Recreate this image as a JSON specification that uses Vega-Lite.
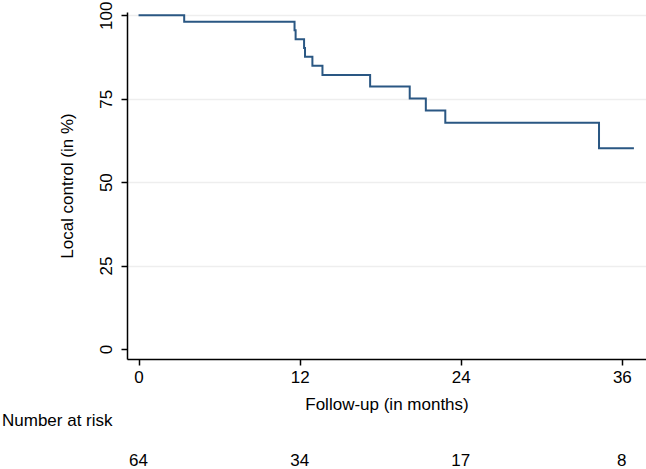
{
  "$schema": "https://vega.github.io/schema/vega-lite/v6.json",
  "padding": {"left": 2, "top": 1, "right": 0, "bottom": 0},
  "config": {
    "font": "Liberation Sans",
    "view": {"stroke": null},
    "axis": {
      "labelFont": "Liberation Sans", "titleFont": "Liberation Sans",
      "labelFontSize": 17, "titleFontSize": 17,
      "labelColor": "#000", "titleColor": "#000", "titleFontWeight": "normal",
      "domainColor": "#000", "tickColor": "#000", "domainWidth": 1.5, "tickWidth": 1.5, "tickSize": 6
    },
    "concat": {"spacing": 0}
  },
  "vconcat": [
    {
      "width": 519,
      "height": 347,
      "data": {"values": [
        {"time": 0, "surv": 100},
        {"time": 3.4, "surv": 98.1},
        {"time": 11.62, "surv": 95.5},
        {"time": 11.7, "surv": 92.8},
        {"time": 12.33, "surv": 90.2},
        {"time": 12.4, "surv": 87.6},
        {"time": 12.95, "surv": 84.9},
        {"time": 13.7, "surv": 82.1},
        {"time": 17.25, "surv": 78.7},
        {"time": 20.2, "surv": 75.1},
        {"time": 21.4, "surv": 71.5},
        {"time": 22.85, "surv": 67.8},
        {"time": 34.3, "surv": 60.2},
        {"time": 36.9, "surv": 60.2}
      ]},
      "mark": {"type": "line", "interpolate": "step-after", "color": "#2a5783", "strokeWidth": 2},
      "encoding": {
        "x": {
          "field": "time", "type": "quantitative",
          "scale": {"domain": [-0.86, 37.8], "nice": false, "zero": false},
          "axis": {"values": [0, 12, 24, 36], "grid": false, "title": "Follow-up (in months)", "labelPadding": 4, "titlePadding": 11}
        },
        "y": {
          "field": "surv", "type": "quantitative",
          "scale": {"domain": [-3, 101], "nice": false},
          "axis": {
            "values": [0, 25, 50, 75, 100], "grid": true, "gridColor": "#eeeeee", "gridWidth": 1.5,
            "gridOpacity": {"condition": {"test": "datum.value === 0", "value": 0}, "value": 1},
            "labelAngle": 270, "labelPadding": 6, "title": "Local control (in %)", "titlePadding": 21
          }
        }
      }
    },
    {
      "width": 519,
      "height": 14,
      "title": {"text": "Number at risk", "anchor": "start", "dx": -125, "fontSize": 17, "fontWeight": "normal", "font": "Liberation Sans", "color": "#000", "offset": 22},
      "data": {"values": [
        {"time": 0, "n": 64},
        {"time": 12, "n": 34},
        {"time": 24, "n": 17},
        {"time": 36, "n": 8}
      ]},
      "mark": {"type": "text", "fontSize": 17, "font": "Liberation Sans", "color": "#000"},
      "encoding": {
        "x": {"field": "time", "type": "quantitative", "scale": {"domain": [-0.86, 37.8], "nice": false, "zero": false}, "axis": null},
        "text": {"field": "n", "type": "quantitative"}
      }
    }
  ]
}
